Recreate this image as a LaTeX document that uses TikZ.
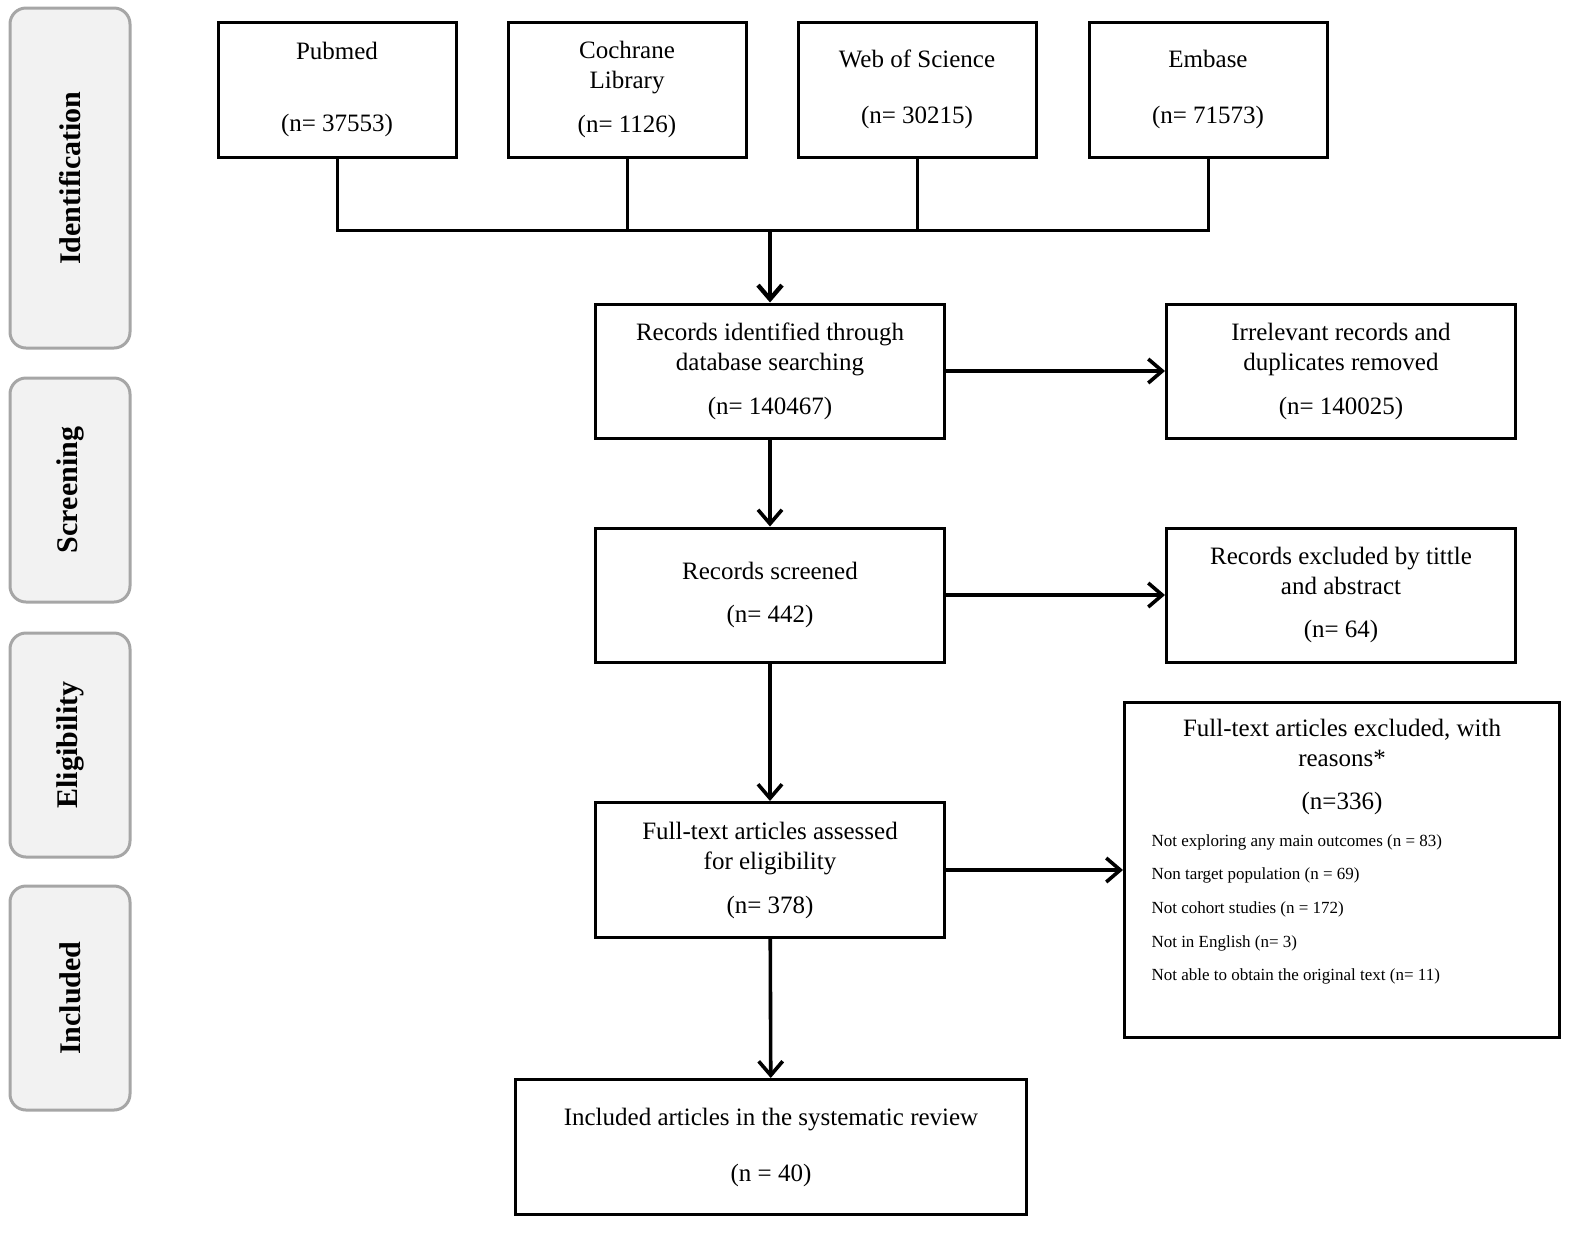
\documentclass[tikz,border=0pt]{standalone}
\usepackage{fontspec}
\setmainfont{Liberation Serif}
\usetikzlibrary{arrows.meta}
\begin{document}
\tikzset{every picture/.style={line width=1.5pt}}
\tikzset{
  box/.style={draw, align=center, inner sep=0pt, font=\fontsize{12.5}{15}\selectfont},
  phase/.style={draw=gray!70, fill=gray!10, rounded corners=8pt, line width=1.5pt,
    minimum height=60pt, rotate=90, font=\bfseries\fontsize{15}{18}\selectfont},
  arr/.style={-{Straight Barb[length=7pt,width=12pt]}, line width=1.8pt}
}
\begin{tikzpicture}[x=0.5pt,y=0.5pt,yscale=-1,xscale=1]
\useasboundingbox (0,0) rectangle (1595,1244);
% phases
\node [phase, minimum width=170pt] (pid) at (70,178) {Identification};
\node [phase, minimum width=112pt] (psc) at (70,490) {Screening};
\node [phase, minimum width=112pt] (pel) at (70,745) {Eligibility};
\node [phase, minimum width=112pt] (pin) at (70,998) {Included};
% databases
\node [box, minimum width=119pt, minimum height=67.5pt] (pub) at (337,89.5) {Pubmed\\[21pt](n= 37553)};
\node [box, minimum width=119pt, minimum height=67.5pt] (coc) at (627,89.5) {Cochrane\\Library\\[7pt](n= 1126)};
\node [box, minimum width=119pt, minimum height=67.5pt] (wos) at (917,89.5) {Web of Science\\[13pt](n= 30215)};
\node [box, minimum width=119pt, minimum height=67.5pt] (emb) at (1208,89.5) {Embase\\[13pt](n= 71573)};
\coordinate (join) at (770,230);
\draw (pub.south) |- (emb.south |- join) -- (emb.south);
\draw (coc.south) -- (coc.south |- join);
\draw (wos.south) -- (wos.south |- join);
% main flow
\node [box, minimum width=174.5pt, minimum height=67pt] (rec) at (770,371) {Records identified through\\database searching\\[7pt](n= 140467)};
\node [box, minimum width=174.5pt, minimum height=67pt] (irr) at (1341,371) {Irrelevant records and\\duplicates removed\\[7pt](n= 140025)};
\node [box, minimum width=174.5pt, minimum height=67pt] (scr) at (770,595) {Records screened\\[6.5pt](n= 442)};
\node [box, minimum width=174.5pt, minimum height=67pt] (exc) at (1341,595) {Records excluded by tittle\\and abstract\\[6.5pt](n= 64)};
\node [box, minimum width=174.5pt, minimum height=67.5pt] (ful) at (770,870) {Full-text articles assessed\\for eligibility\\[7pt](n= 378)};
\node [box, minimum width=217.5pt, minimum height=167.5pt] (fex) at (1342,870) {};
\node [align=center, anchor=north, inner sep=0pt, font=\fontsize{12.5}{15}\selectfont] (fext) at (1342,718) {Full-text articles excluded, with\\reasons*\\[6.5pt](n=336)};
\node [align=left, anchor=north west, inner sep=0pt, font=\fontsize{8.5}{16.8}\selectfont] (fexl) at (1150,833) {Not exploring any main outcomes (n = 83)\\Non target population (n = 69)\\Not cohort studies (n = 172)\\Not in English (n= 3)\\Not able to obtain the original text (n= 11)};
\node [box, minimum width=255.5pt, minimum height=67.5pt] (inc) at (771,1147) {Included articles in the systematic review\\[13pt](n = 40)};
% arrows
\draw [arr, line width=2.2pt] (join) -- (rec.north);
\draw [arr] (rec) -- (irr);
\draw [arr] (rec) -- (scr);
\draw [arr] (scr) -- (exc);
\draw [arr] (scr) -- (ful);
\draw [arr] (ful) -- (fex);
\draw [arr] (ful) -- (inc);
\end{tikzpicture}
\end{document}
